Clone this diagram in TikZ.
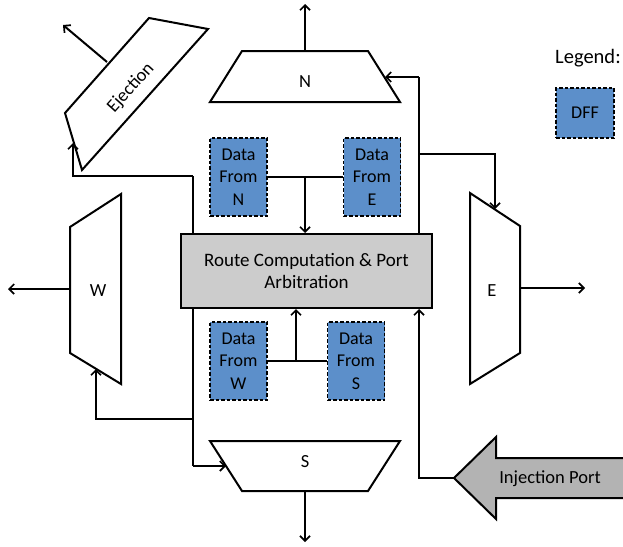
\documentclass[tikz,border=0pt]{standalone}
\usepackage{fontspec}
\setmainfont{Carlito}
\usetikzlibrary{arrows.meta}
\definecolor{dffblue}{RGB}{92,143,202}
\definecolor{rcgray}{RGB}{204,204,204}
\definecolor{injgray}{RGB}{179,179,179}
\tikzset{
  x=1pt, y=-1pt,
  wire/.style={line width=2pt, line join=miter},
  arr/.style={wire, -{Straight Barb[length=5pt,width=10pt,line width=1.7pt]}},
  muxshape/.style={line width=2pt, fill=white, line join=miter},
  dffbox/.style={draw, dash pattern=on 3.5pt off 2pt, line width=1.8pt, fill=dffblue, minimum width=57pt,
    minimum height=78pt, inner sep=0pt, align=center, font=\fontsize{18}{22.5}\selectfont},
  lbl/.style={font=\fontsize{18.5}{20}\selectfont, inner sep=0pt},
}
\begin{document}
\begin{tikzpicture}
\useasboundingbox (0,0) rectangle (623,546);

% multiplexers of the four directions
\draw[muxshape] (242,51) -- (368,51) -- (400,102) -- (210,102) -- cycle;
\node[lbl] (nlab) at (305,82) {N};
\draw[muxshape] (210,441) -- (400,441) -- (368,491) -- (242,491) -- cycle;
\node[lbl] (slab) at (305,462) {S};
\draw[muxshape] (470,193) -- (520,226) -- (520,353) -- (470,384) -- cycle;
\node[lbl] (elab) at (492,291) {E};
\draw[muxshape] (121,194) -- (121,384) -- (70,353) -- (70,227) -- cycle;
\node[lbl] (wlab) at (98,291) {W};

% ejection port
\draw[muxshape] (149,18) -- (208,29) -- (82,170) -- (65,113) -- cycle;
\node[lbl, rotate=48] (ejlab) at (131,88) {Ejection};

% route computation block
\node[draw, line width=2pt, fill=rcgray, minimum width=251pt, minimum height=74pt,
  inner sep=0pt, align=center, font=\fontsize{19}{22}\selectfont] (rc) at (306.5,271)
  {Route Computation \& Port\\Arbitration};

% input flip-flops
\node[dffbox] (dN) at (238.5,177) {Data\\From\\N};
\node[dffbox] (dE) at (372,177) {Data\\From\\E};
\node[dffbox] (dW) at (238.5,361) {Data\\From\\W};
\node[dffbox] (dS) at (356,361) {Data\\From\\S};

% injection port arrow
\fill[injgray] (454,478) -- (496,437) -- (496,458) -- (624,458) -- (624,498) -- (496,498) -- (496,519) -- cycle;
\draw[wire] (624,458) -- (496,458) -- (496,437) -- (454,478) -- (496,519) -- (496,498) -- (624,498);
\coordinate (inj) at (454,478);
\node[lbl] (injlab) at (550,479) {Injection Port};

% legend
\node[anchor=west, font=\fontsize{20.5}{22}\selectfont, inner sep=0pt] (leg) at (555,58) {Legend:};
\node[dffbox, minimum width=58pt, minimum height=50pt] (legdff) at (585,113) {DFF};

% ports and junctions
\coordinate (nOut) at (305,51);
\coordinate (nOutEnd) at (305,4);
\coordinate (sOut) at (305,491);
\coordinate (sOutEnd) at (305,542);
\coordinate (eOut) at (520,288);
\coordinate (eOutEnd) at (585,288);
\coordinate (wOut) at (70,289);
\coordinate (wOutEnd) at (8,289);
\coordinate (ejOut) at (107,62);
\coordinate (ejOutEnd) at (63,25);

\coordinate (nIn) at (385,77);
\coordinate (eIn) at (495,209);
\coordinate (sIn) at (226,466);
\coordinate (wIn) at (96,369);
\coordinate (ejIn) at (73,143);

\coordinate (rTop) at (419,77);
\coordinate (rMid) at (419,154);
\coordinate (lTop) at (193,176);
\coordinate (lMid) at (193,419);
\coordinate (lBot) at (193,466);
\coordinate (injC) at (419,478);
\coordinate (topJ) at (305,177);
\coordinate (botJ) at (296,361);

% outputs
\draw[arr] (nOut) -- (nOutEnd);
\draw[arr] (sOut) -- (sOutEnd);
\draw[arr] (eOut) -- (eOutEnd);
\draw[arr] (wOut) -- (wOutEnd);
\draw[arr] (ejOut) -- (ejOutEnd);

% flip-flops into route computation
\draw[wire] (dN.east) -- (dE.west);
\draw[arr] (topJ) -- (topJ |- rc.north);
\draw[wire] (dW.east) -- (dS.west);
\draw[arr] (botJ) -- (botJ |- rc.south);

% route computation to the output multiplexers
\draw[wire] (rTop |- rc.north) -- (rTop);
\draw[arr] (rTop) -- (nIn);
\draw[arr] (rMid) -- (rMid -| eIn) -- (eIn);
\draw[wire] (lTop |- rc.north) -- (lTop);
\draw[arr] (lTop) -- (lTop -| ejIn) -- (ejIn);
\draw[wire] (lBot |- rc.south) -- (lBot);
\draw[arr] (lBot) -- (sIn);
\draw[arr] (lMid) -- (lMid -| wIn) -- (wIn);

% injection into route computation
\draw[arr] (inj) -- (injC) -- (injC |- rc.south);
\end{tikzpicture}
\end{document}
